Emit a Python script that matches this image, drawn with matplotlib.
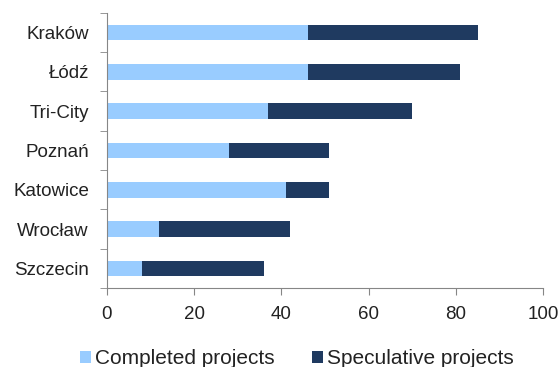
import matplotlib.pyplot as plt
import numpy as np

cities = ["Kraków", "Łódź", "Tri-City", "Poznań", "Katowice", "Wrocław", "Szczecin"]
completed = [46, 46, 37, 28, 41, 12, 8]
speculative = [39, 35, 33, 23, 10, 30, 28]

LIGHT = "#99CCFF"
DARK = "#1F3A60"
AXIS = "#868686"

plt.rcParams["font.family"] = ["Liberation Sans", "DejaVu Sans"]

fig = plt.figure(figsize=(5.6, 3.67), dpi=100)
ax = fig.add_axes([0.191, 0.215, 0.779, 0.75])

y = np.arange(len(cities))
ax.barh(y, completed, height=0.4, color=LIGHT, label="Completed projects")
ax.barh(y, speculative, height=0.4, left=completed, color=DARK, label="Speculative projects")

ax.set_xlim(0, 100)
ax.set_ylim(len(cities) - 0.5, -0.5)
ax.set_xticks([0, 20, 40, 60, 80, 100])
ax.set_yticks(y)
ax.set_yticklabels(cities)
ax.set_yticks(np.arange(len(cities) + 1) - 0.5, minor=True)

# category labels without marks, boundary marks on the minor ticks
ax.tick_params(axis="y", which="major", length=0, pad=13, labelsize=13.5, labelcolor="#222222")
ax.tick_params(axis="y", which="minor", length=5, color=AXIS, direction="out")
ax.tick_params(axis="x", which="major", length=5, color=AXIS, pad=8, labelsize=13.5, labelcolor="#222222")

for side in ["top", "right"]:
    ax.spines[side].set_visible(False)
for side in ["left", "bottom"]:
    ax.spines[side].set_color(AXIS)

fig.legend(loc="center", bbox_to_anchor=(297 / 560, 1 - 359 / 367), ncol=2,
           frameon=False, fontsize=15, handlelength=0.5, handleheight=0.5,
           handletextpad=0.2, columnspacing=1.8, labelcolor="#222222")

fig.savefig("out.png", dpi=100)
